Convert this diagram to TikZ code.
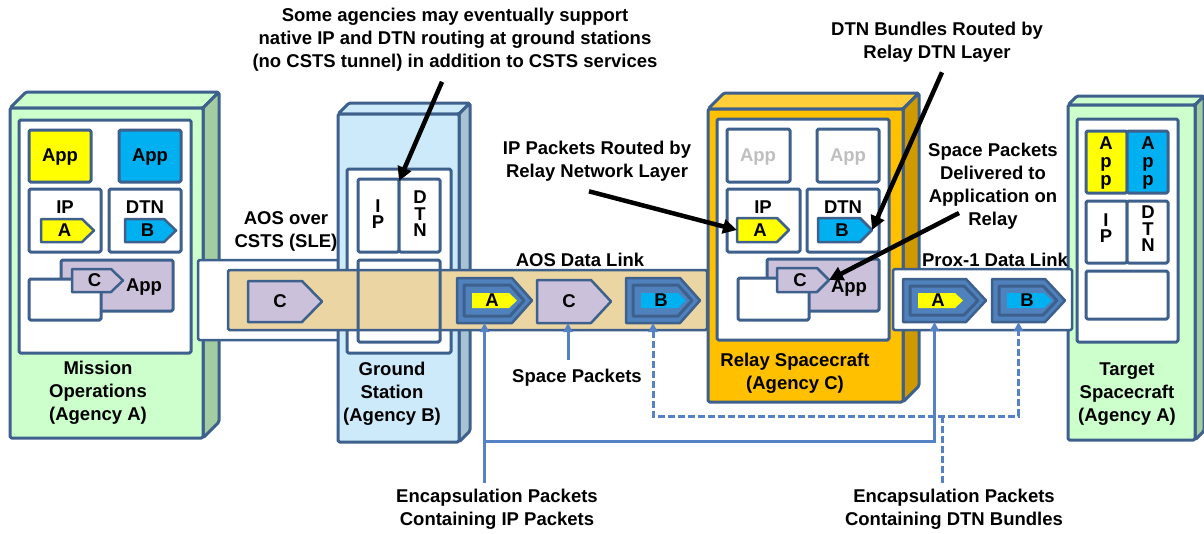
\documentclass[tikz,border=0pt]{standalone}
\usepackage{fontspec}
\setmainfont{Liberation Sans}
\usetikzlibrary{arrows.meta,calc}

\definecolor{bord}{RGB}{62,96,140}
\definecolor{grnF}{RGB}{204,255,204}
\definecolor{grnS}{RGB}{163,204,163}
\definecolor{bluF}{RGB}{204,234,250}
\definecolor{bluS}{RGB}{168,196,212}
\definecolor{orgF}{RGB}{255,192,0}
\definecolor{orgT}{RGB}{255,206,56}
\definecolor{orgS}{RGB}{206,154,0}
\definecolor{ylw}{RGB}{255,255,0}
\definecolor{cyn}{RGB}{0,176,240}
\definecolor{prp}{RGB}{204,193,218}
\definecolor{pkt}{RGB}{79,129,189}
\definecolor{tan}{RGB}{235,213,163}
\definecolor{lnk}{RGB}{84,130,196}
\definecolor{ghost}{RGB}{191,191,191}

% pentagon-shaped packet: x1 y1 x2 y2 tip-length
\newcommand\pkt[6][]{\draw[#1] ({#2},{#3}) -- ({#4-#6},{#3}) -- ({#4},{(#3+#5)/2}) -- ({#4-#6},{#5}) -- ({#2},{#5}) -- cycle;}

% single packet with a letter: x1 y1 x2 y2 tip fill letter name
\newcommand\spkt[8]{%
  \pkt[pktline,fill=#6]{#1}{#2}{#3}{#4}{#5}
  \node[lbl] (#8) at ({(#1+#3-#5/2)/2},{(#2+#4)/2}) {#7};
  \coordinate (#8-w) at ({#1},{(#2+#4)/2});
  \coordinate (#8-e) at ({#3},{(#2+#4)/2});
  \coordinate (#8-s) at ({(#1+#3-#5)/2},{#4});}

% encapsulation packet (packet inside a packet): x1 y1 x2 y2 corefill letter name
\newcommand\epkt[7]{%
  \pkt[pktline,fill=pkt]{#1}{#2}{#3}{#4}{20}
  \pkt[pktline,line width=3pt,fill=pkt]{#1+7}{#2+7}{#3-8}{#4-7}{14}
  \pkt[draw=none,fill=#5]{#1+15}{(#2+#4)/2-7.5}{#1+60}{(#2+#4)/2+7.5}{8}
  \node[lbl] (#7) at ({#1+35},{(#2+#4)/2}) {#6};
  \coordinate (#7-s) at ({(#1+#3-20)/2},{#4});}

% 3D box: x1 y1 x2 y2 depth front top side
\newcommand\cube[8]{%
  \draw[box,fill=#7] ({#1},{#2}) -- ++({#5},{-#5}) -- ({#3+#5},{#2-#5}) -- ({#3},{#2}) -- cycle;
  \draw[box,fill=#8] ({#3},{#2}) -- ({#3+#5},{#2-#5}) -- ({#3+#5},{#4-#5}) -- ({#3},{#4}) -- cycle;
  \draw[box,fill=#6] ({#1},{#2}) rectangle ({#3},{#4});}

\tikzset{
  box/.style={draw=bord,line width=3pt,rounded corners=1.5pt,line join=round},
  pktline/.style={draw=bord,line width=2.5pt,line join=round},
  lbl/.style={font=\fontsize{18.5}{23}\selectfont\bfseries,align=center,inner sep=0pt},
  vlbl/.style={font=\fontsize{18.5}{16.5}\selectfont\bfseries,align=center,inner sep=0pt},
  callout/.style={line width=4.5pt,-{Triangle[length=14pt,width=14pt]}},
  feed/.style={draw=lnk,line width=3pt,-{Triangle[length=9pt,width=9pt]}},
  dashpat/.style={dash pattern=on 7pt off 3pt},
}

\begin{document}
\begin{tikzpicture}[x=1pt,y=-1pt]
\useasboundingbox[fill=white] (0,0) rectangle (1204,533);

% ---------- Mission Operations ----------
\cube{10}{108}{203}{438}{16}{grnF}{grnF}{grnS}
\draw[box,fill=white] (19,120) rectangle (191,353);
\draw[box,fill=ylw] (29,130) rectangle (91,182);
\node[lbl] (moAppA) at (60,157) {App};
\draw[box,fill=cyn] (119,130) rectangle (181,182);
\node[lbl] (moAppB) at (150,157) {App};
\draw[box,fill=white] (29,189) rectangle (101,252);
\node[lbl] (moIP) at (65,207) {IP};
\draw[box,fill=white] (109,189) rectangle (181,252);
\node[lbl] (moDTN) at (145,207) {DTN};
\spkt{41}{219}{94}{242}{12}{ylw}{A}{moA}
\spkt{125}{219}{176}{242}{12}{cyn}{B}{moB}
\draw[box,fill=prp] (61,260) rectangle (173,311);
\draw[box,fill=white] (29,279) rectangle (101,320);
\spkt{72}{269}{123}{292}{12}{prp}{C}{moC}
\node[lbl] (moAppC) at (144,287) {App};
\node[lbl] (moName) at (98,393) {Mission\\Operations\\(Agency A)};

% ---------- CSTS tunnel to the ground station ----------
\draw[box,line width=2.5pt,fill=white] (198,260) rectangle (345,340);

% ---------- Ground Station ----------
\cube{338}{114}{459}{442}{11}{bluF}{bluF}{bluS}
\draw[box,fill=white] (347,169) rectangle (451,353);
\draw[box,fill=white] (358,179) rectangle (399,252);
\draw[box,fill=white] (399,179) rectangle (440,252);
\node[vlbl] (gsIP) at (378,214) {I\\P};
\node[vlbl] (gsDTN) at (420,214) {D\\T\\N};
\coordinate (gsSplit) at (399,181);
\node[lbl] (gsName) at (392,394) {Ground\\Station\\(Agency B)};

% ---------- AOS link bar ----------
\draw[draw=bord,line width=2.5pt,fill=tan,rounded corners=1.5pt] (228,270) rectangle (707,330);
\draw[box,fill=none] (358,260) rectangle (440,342);
\spkt{248}{281}{322}{322}{20}{prp}{C}{tuC}
\epkt{457}{278}{532}{323}{ylw}{A}{aosA}
\spkt{537}{280}{611}{323}{20}{prp}{C}{aosC}
\epkt{626}{278}{700}{323}{cyn}{B}{aosB}
\node[lbl] (aosOver) at (286,231) {AOS over\\CSTS (SLE)};
\node[lbl] (aosLink) at (580,260) {AOS Data Link};

% ---------- Relay Spacecraft ----------
\cube{708}{109}{903}{402}{16}{orgF}{orgT}{orgS}
\draw[box,fill=white] (717,119) rectangle (889,340);
\draw[box,fill=white] (727,129) rectangle (790,182);
\node[lbl,text=ghost] (rsApp1) at (758,157) {App};
\draw[box,fill=white] (817,129) rectangle (879,182);
\node[lbl,text=ghost] (rsApp2) at (848,157) {App};
\draw[box,fill=white] (727,189) rectangle (800,252);
\node[lbl] (rsIP) at (763,207) {IP};
\draw[box,fill=white] (807,189) rectangle (879,252);
\node[lbl] (rsDTN) at (843,207) {DTN};
\spkt{737}{218}{789}{242}{12}{ylw}{A}{rsA}
\spkt{818}{218}{872}{242}{12}{cyn}{B}{rsB}
\draw[box,fill=prp] (767,259) rectangle (879,311);
\draw[box,fill=white] (738,278) rectangle (809,320);
\spkt{777}{268}{829}{292}{12}{prp}{C}{rsC}
\node[lbl] (rsAppC) at (849,288) {App};
\node[lbl] (rsName) at (795,373) {Relay Spacecraft\\(Agency C)};

% ---------- Target Spacecraft ----------
\cube{1068}{105}{1195}{440}{9}{grnF}{grnF}{grnS}
\draw[box,fill=white] (1077,119) rectangle (1178,342);
\draw[box,fill=ylw] (1086,131) rectangle (1127,193);
\draw[box,fill=cyn] (1127,131) rectangle (1168,193);
\node[lbl,font=\fontsize{18.5}{18}\selectfont\bfseries] (tsAppA) at (1106,163) {A\\p\\p};
\node[lbl,font=\fontsize{18.5}{18}\selectfont\bfseries] (tsAppB) at (1148,163) {A\\p\\p};
\draw[box,fill=white] (1086,201) rectangle (1127,263);
\draw[box,fill=white] (1127,201) rectangle (1168,263);
\node[vlbl] (tsIP) at (1106,228) {I\\P};
\node[vlbl] (tsDTN) at (1148,229) {D\\T\\N};
\draw[box,fill=white] (1086,271) rectangle (1168,319);
\node[lbl] (tsName) at (1127,394) {Target\\Spacecraft\\(Agency A)};

% ---------- Proximity-1 link ----------
\draw[box,line width=2.5pt,fill=white] (893,269) rectangle (1072,330);
\epkt{903}{279}{986}{322}{ylw}{A}{pxA}
\epkt{992}{279}{1065}{322}{cyn}{B}{pxB}
\node[lbl] (pxLink) at (995,260) {Prox-1 Data Link};

% ---------- Notes with callout arrows ----------
\node[lbl] (gsNote) at (455,40) {Some agencies may eventually support\\native IP and DTN routing at ground stations\\(no CSTS tunnel) in addition to CSTS services};
\draw[callout] ($(gsNote.south)+(-13,10)$) -- (gsSplit);

\node[lbl] (dtnNote) at (937,42) {DTN Bundles Routed by\\Relay DTN Layer};
\draw[callout] ($(dtnNote.south)+(5,10)$) -- (rsB-e);

\node[lbl] (ipNote) at (597,161) {IP Packets Routed by\\Relay Network Layer};
\draw[callout] ($(ipNote.south)+(-8,10)$) -- (rsA-w);

\node[lbl] (spNote) at (993,186) {Space Packets\\Delivered to\\Application on\\Relay};
\draw[callout] ($(spNote.center)+(-34,27)$) -- (rsC-e);

% ---------- Packet-type legends with feed lines ----------
\node[lbl] (spLbl) at (577,378) {Space Packets};
\draw[feed] ($(aosC-s |- spLbl.north)+(4,-9)$) -- ($(aosC-s)+(4,0)$);

\node[lbl] (encIP) at (497,509) {Encapsulation Packets\\Containing IP Packets};
\node[lbl] (encDTN) at (954,509) {Encapsulation Packets\\Containing DTN Bundles};

\coordinate (ipJoin) at (aosA-s |- 0,441);
\draw[feed] ($(aosA-s |- encIP.north)+(0,-6)$) -- (aosA-s);
\draw[feed] (ipJoin) -| (pxA-s);

\coordinate (dtnJoin) at (942,416);
\draw[feed,dashpat,{Triangle[length=9pt,width=9pt]}-{Triangle[length=9pt,width=9pt]}] (aosB-s) |- (dtnJoin) -| (pxB-s);
\draw[draw=lnk,line width=3pt,dashpat] (dtnJoin) -- ($(dtnJoin |- encDTN.north)+(0,-6)$);
\end{tikzpicture}
\end{document}
